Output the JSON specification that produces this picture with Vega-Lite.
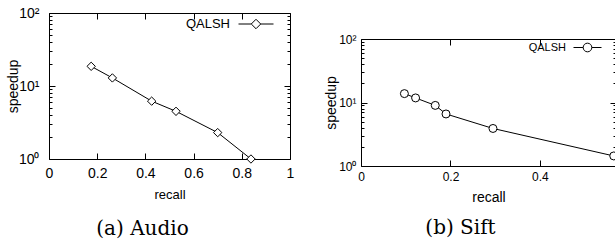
{
  "$schema": "https://vega.github.io/schema/vega-lite/v6.json",
  "background": "white",
  "padding": {"left": 5, "top": 5, "right": 0, "bottom": 0},
  "config": {
    "view": {"stroke": "black", "strokeWidth": 1},
    "font": "Liberation Sans",
    "axis": {"labelColor": "black", "titleColor": "black", "tickColor": "black", "domain": false, "grid": false, "titleFontWeight": "normal", "labelFlush": false, "labelOverlap": false}
  },
  "spacing": 29,
  "resolve": {"scale": {"stroke": "independent"}, "legend": {"stroke": "independent"}},
  "hconcat": [
    {
      "width": 241,
      "height": 146,
      "data": {"values": [
        {"series": "QALSH", "recall": 0.175, "speedup": 18.6},
        {"series": "QALSH", "recall": 0.263, "speedup": 12.9},
        {"series": "QALSH", "recall": 0.426, "speedup": 6.2},
        {"series": "QALSH", "recall": 0.527, "speedup": 4.5},
        {"series": "QALSH", "recall": 0.70, "speedup": 2.3},
        {"series": "QALSH", "recall": 0.838, "speedup": 1.0}
      ]},
      "title": {"text": "(a) Audio", "orient": "bottom", "font": "DejaVu Serif", "fontSize": 20, "fontWeight": "normal", "color": "black", "offset": 18, "dx": -27},
      "layer": [
        {
          "mark": {"type": "line", "color": "black", "strokeWidth": 1, "clip": true},
          "encoding": {
            "x": {"field": "recall", "type": "quantitative", "scale": {"domain": [0, 1], "nice": false},
              "axis": {"orient": "bottom", "title": "recall", "titleFontSize": 13, "labelFontSize": 14, "values": [0, 0.2, 0.4, 0.6, 0.8, 1], "format": "~g", "tickSize": -6, "labelPadding": 13, "titlePadding": 8}},
            "y": {"field": "speedup", "type": "quantitative", "scale": {"type": "log", "domain": [1, 100], "nice": false},
              "axis": {"orient": "left", "title": "speedup", "titleFontSize": 14, "labelFontSize": 14, "values": [1, 2, 3, 4, 5, 6, 7, 8, 9, 10, 20, 30, 40, 50, 60, 70, 80, 90, 100],
                "labelExpr": "datum.value == 1 ? '10⁰' : datum.value == 10 ? '10¹' : datum.value == 100 ? '10²' : ''",
                "tickSize": {"condition": {"test": "datum.value == 1 || datum.value == 10 || datum.value == 100", "value": -6}, "value": -3},
                "labelPadding": 16, "titlePadding": -2}}
          }
        },
        {
          "mark": {"type": "point", "shape": "diamond", "filled": true, "fill": "white", "size": 70, "strokeWidth": 1, "opacity": 1},
          "encoding": {
            "x": {"field": "recall", "type": "quantitative",
              "axis": {"orient": "top", "title": null, "labels": false, "values": [0, 0.2, 0.4, 0.6, 0.8, 1], "tickSize": -6}},
            "y": {"field": "speedup", "type": "quantitative",
              "axis": {"orient": "right", "title": null, "labels": false, "values": [1, 2, 3, 4, 5, 6, 7, 8, 9, 10, 20, 30, 40, 50, 60, 70, 80, 90, 100],
                "tickSize": {"condition": {"test": "datum.value == 1 || datum.value == 10 || datum.value == 100", "value": -6}, "value": -3}}},
            "stroke": {"field": "series", "type": "nominal", "scale": {"range": ["black"]},
              "legend": {"title": null, "orient": "none", "legendX": 189, "legendY": -7, "padding": 0,
                "symbolType": "M-1,0L-0.27,0M0.27,0L1,0M0,-0.27L0.27,0L0,0.27L-0.27,0Z", "symbolSize": 1225, "symbolStrokeWidth": 1, "symbolFillColor": "white",
                "labelFontSize": 13, "labelColor": "black", "labelAlign": "right", "labelOffset": -44}}
          }
        }
      ],
      "resolve": {"axis": {"x": "independent", "y": "independent"}}
    },
    {
      "spacing": 0,
      "resolve": {"scale": {"stroke": "independent"}, "legend": {"stroke": "independent"}},
      "vconcat": [
        {
          "width": 10,
          "height": 19,
          "view": {"stroke": null},
          "data": {"values": [{"series": "spacer"}]},
          "mark": {"type": "point", "opacity": 0},
          "encoding": {}
        },
        {
          "width": 255,
          "height": 127,
          "data": {"values": [
            {"series": "QALSH", "recall": 0.097, "speedup": 13.8},
            {"series": "QALSH", "recall": 0.122, "speedup": 11.8},
            {"series": "QALSH", "recall": 0.166, "speedup": 9.0},
            {"series": "QALSH", "recall": 0.19, "speedup": 6.6},
            {"series": "QALSH", "recall": 0.295, "speedup": 3.9},
            {"series": "QALSH", "recall": 0.565, "speedup": 1.44}
          ]},
          "title": {"text": "(b) Sift", "orient": "bottom", "font": "DejaVu Serif", "fontSize": 20, "fontWeight": "normal", "color": "black", "offset": 14, "dx": -28},
          "layer": [
            {
              "mark": {"type": "line", "color": "black", "strokeWidth": 1, "clip": true},
              "encoding": {
                "x": {"field": "recall", "type": "quantitative", "scale": {"domain": [0, 0.57], "nice": false},
                  "axis": {"orient": "bottom", "title": "recall", "titleFontSize": 14, "labelFontSize": 12, "values": [0, 0.2, 0.4], "format": "~g", "tickSize": -6, "labelPadding": 11, "titlePadding": 8}},
                "y": {"field": "speedup", "type": "quantitative", "scale": {"type": "log", "domain": [1, 100], "nice": false},
                  "axis": {"orient": "left", "title": "speedup", "titleFontSize": 14, "labelFontSize": 12, "values": [1, 2, 3, 4, 5, 6, 7, 8, 9, 10, 20, 30, 40, 50, 60, 70, 80, 90, 100],
                    "labelExpr": "datum.value == 1 ? '10⁰' : datum.value == 10 ? '10¹' : datum.value == 100 ? '10²' : ''",
                    "tickSize": {"condition": {"test": "datum.value == 1 || datum.value == 10 || datum.value == 100", "value": -6}, "value": -3},
                    "labelPadding": 11, "titlePadding": 0}}
              }
            },
            {
              "mark": {"type": "point", "shape": "circle", "filled": true, "fill": "white", "size": 64, "strokeWidth": 1, "opacity": 1},
              "encoding": {
                "x": {"field": "recall", "type": "quantitative",
                  "axis": {"orient": "top", "labels": false, "values": [0, 0.2, 0.4], "tickSize": -6, "title": null}},
                "y": {"field": "speedup", "type": "quantitative",
                  "axis": {"orient": "right", "title": null, "labels": false, "values": [1, 2, 3, 4, 5, 6, 7, 8, 9, 10, 20, 30, 40, 50, 60, 70, 80, 90, 100],
                    "tickSize": {"condition": {"test": "datum.value == 1 || datum.value == 10 || datum.value == 100", "value": -6}, "value": -3}}},
                "stroke": {"field": "series", "type": "nominal", "scale": {"range": ["black"]},
                  "legend": {"title": null, "orient": "none", "legendX": 212, "legendY": -6, "padding": 0,
                    "symbolType": "M-1,0L-0.31,0M0.31,0L1,0M0.31,0A0.31,0.31,0,1,1,-0.31,0A0.31,0.31,0,1,1,0.31,0Z", "symbolSize": 784, "symbolStrokeWidth": 1, "symbolFillColor": "white",
                    "labelFontSize": 11, "labelColor": "black", "labelAlign": "right", "labelOffset": -36}}
              }
            }
          ],
          "resolve": {"axis": {"x": "independent", "y": "independent"}}
        }
      ]
    }
  ]
}
